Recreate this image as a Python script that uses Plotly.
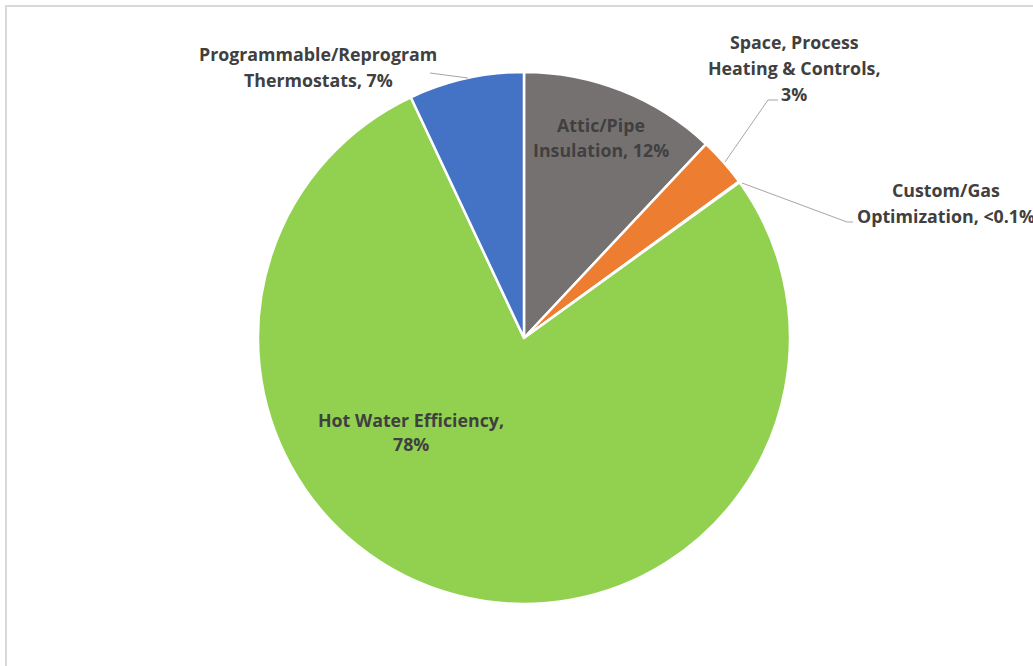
import plotly.graph_objects as go

# Program savings share by measure category
categories = [
    "Attic/Pipe Insulation",
    "Space, Process Heating & Controls",
    "Custom/Gas Optimization",
    "Hot Water Efficiency",
    "Programmable/Reprogram Thermostats",
]
shares = [12, 3, 0.05, 78, 7]
share_labels = ["12%", "3%", "<0.1%", "78%", "7%"]
colors = ["#767171", "#ED7D31", "#A5A5A5", "#92D050", "#4472C4"]

W, H = 1033, 666
M_T, M_B = 72, 62
PLOT_H = H - M_T - M_B


def px(x):
    return x / W


def py(y):
    return (H - M_B - y) / PLOT_H


fig = go.Figure(
    go.Pie(
        labels=categories,
        values=shares,
        sort=False,
        direction="clockwise",
        rotation=0,
        textinfo="none",
        hoverinfo="skip",
        marker=dict(colors=colors, line=dict(color="white", width=2.5)),
        domain=dict(x=[0.2, 0.8145], y=[0, 1]),
        showlegend=False,
    )
)

FONT = "Open Sans"
TXT = "#404040"

# label lines: (text, x-center px, y-center px)
label_lines = [
    ("Programmable/Reprogram", 318, 54),
    ("Thermostats, " + share_labels[4], 318, 80),
    ("Space, Process", 794, 41.5),
    ("Heating & Controls,", 794, 67.5),
    (share_labels[1], 794, 94.5),
    ("Custom/Gas", 946, 189.5),
    ("Optimization, " + share_labels[2], 946, 215.5),
    ("Attic/Pipe", 601, 125),
    ("Insulation, " + share_labels[0], 601, 150),
    ("Hot Water Efficiency,", 411, 420),
    (share_labels[3], 411, 444),
]

annotations = []
for text, x, y in label_lines:
    annotations.append(
        dict(
            text="<b>" + text + "</b>",
            x=px(x),
            y=py(y),
            xref="paper",
            yref="paper",
            xanchor="center",
            yanchor="middle",
            showarrow=False,
            font=dict(family=FONT, size=17.8, color=TXT),
        )
    )

LEADER = dict(color="#A6A6A6", width=1)
leader_paths = [
    [(430, 73), (468, 78)],
    [(778, 100), (768, 100), (725, 162)],
    [(742, 183), (847, 222), (853, 222)],
]
shapes = []
for pts in leader_paths:
    for (x0, y0), (x1, y1) in zip(pts[:-1], pts[1:]):
        shapes.append(
            dict(type="line", xref="paper", yref="paper",
                 x0=px(x0), y0=py(y0), x1=px(x1), y1=py(y1), line=LEADER)
        )

# chart frame
shapes.append(
    dict(type="rect", xref="paper", yref="paper",
         x0=px(6), y0=py(6), x1=px(W + 20), y1=py(H + 20),
         line=dict(color="#D9D9D9", width=2), fillcolor="rgba(0,0,0,0)")
)

fig.update_layout(
    width=W,
    height=H,
    margin=dict(l=0, r=0, t=M_T, b=M_B),
    paper_bgcolor="white",
    plot_bgcolor="white",
    annotations=annotations,
    shapes=shapes,
)

fig.write_html("out.html")
